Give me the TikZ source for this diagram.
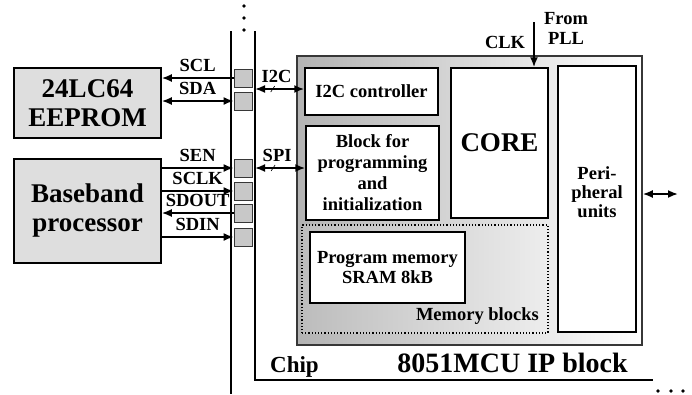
\documentclass[tikz,border=0pt]{standalone}
\usepackage{fontspec}
\setmainfont{Liberation Serif}
\usetikzlibrary{
  arrows.meta,
  positioning,
  calc
}
\definecolor{PadGray}{RGB}{200,200,200}
\definecolor{BoxGray}{RGB}{222,222,222}
\definecolor{FrameGray}{RGB}{55,55,55}
\tikzset{
  extbox/.style={draw=black,fill=BoxGray,line width=1.5pt,align=center,inner sep=2pt,font=\fontsize{27}{29}\selectfont\bfseries},
  padbox/.style={draw=FrameGray,fill=PadGray,line width=0.8pt,minimum size=18pt,inner sep=0pt},
  blockbox/.style={draw=black,fill=white,line width=1.5pt,align=center,inner sep=2pt,font=\fontsize{18.5}{21}\selectfont\bfseries},
  siglabel/.style={font=\fontsize{18.5}{20}\selectfont\bfseries,inner sep=2pt,align=center},
  sigarrow/.style={-{Latex[length=10pt,width=8pt]},line width=1.8pt},
  busarrow/.style={{Latex[length=10pt,width=8pt]}-{Latex[length=10pt,width=8pt]},line width=1.8pt},
  busmark/.style={line width=0.6pt},
  railline/.style={line width=1.2pt}
}

\begin{document}
\begin{tikzpicture}[x=1pt,y=-1pt]
\useasboundingbox (0,0) rectangle (692,394);

% chip edge and pad ring
\coordinate (railtopL) at (231,31);
\coordinate (railbotL) at (231,394);
\coordinate (railtopR) at (255,31);
\coordinate (chipcorner) at (255,380);
\coordinate (chipend) at (653,380);
\draw[railline] (railtopL) -- (railbotL);
\draw[railline] (railtopR) -- (chipcorner) -- (chipend);
\foreach \y in {6,18,30} \fill (244,\y) circle (1.8);
\foreach \x in {658,671,683} \fill (\x,391) circle (1.8);

\foreach \nm/\y in {scl/78,sda/101,sen/168,sclk/191,sdout/213,sdin/237}
  \node[padbox] (pad\nm) at (243,\y) {};

% external devices
\node[extbox, minimum width=147pt, minimum height=70pt] (eeprom) at (87.5,103) {24LC64\\EEPROM};
\node[extbox, minimum width=147pt, minimum height=104pt] (baseband) at (87.5,211) {Baseband\\processor};

\draw[sigarrow] (padscl.west) -- node[siglabel,above=3pt]{SCL} (padscl.west -| eeprom.east);
\draw[busarrow] (padsda.west -| eeprom.east) -- node[siglabel,above=3pt]{SDA} (padsda.west);
\draw[sigarrow] (padsen.west -| baseband.east) -- node[siglabel,above=3pt]{SEN} (padsen.west);
\draw[sigarrow] (padsclk.west -| baseband.east) -- node[siglabel,above=3pt]{SCLK} (padsclk.west);
\draw[sigarrow] (padsdout.west) -- node[siglabel,above=3pt]{SDOUT} (padsdout.west -| baseband.east);
\draw[sigarrow] (padsdin.west -| baseband.east) -- node[siglabel,above=3pt]{SDIN} (padsdin.west);

% IP block
\node[draw=FrameGray, line width=1.5pt, left color=black!30, right color=white, minimum width=345pt, minimum height=289pt] (ipblk) at (469.5,200.5) {};
\node[draw=black, dotted, line width=1.2pt, left color=black!26, right color=black!7, minimum width=246pt, minimum height=108pt] (memblk) at (425,279) {};

\node[blockbox, minimum width=133pt, minimum height=47pt] (i2cctl) at (371.5,91.5) {I2C controller};
\node[blockbox, minimum width=133pt, minimum height=94pt] (progblk) at (372.5,173) {Block for\\programming\\and\\initialization};
\node[blockbox, minimum width=97pt, minimum height=150pt, font=\fontsize{27}{29}\selectfont\bfseries] (core) at (499.5,143) {CORE};
\node[blockbox, minimum width=78pt, minimum height=266pt] (periph) at (597,199) {};
\node[siglabel, font=\fontsize{18.5}{19}\selectfont\bfseries] (periphtxt) at (597,192) {Peri-\\pheral\\units};
\node[blockbox, minimum width=155pt, minimum height=71pt, font=\fontsize{18.5}{20}\selectfont\bfseries] (progmem) at (387.5,267.5) {Program memory\\SRAM 8kB};
\node[siglabel, anchor=base east] (memlbl) at (541,320) {Memory blocks};

\node[font=\fontsize{23}{25}\selectfont\bfseries, anchor=base west, inner sep=0pt] (chiplbl) at (270,372.5) {Chip};
\node[font=\fontsize{28}{30}\selectfont\bfseries, anchor=base, inner sep=0pt] (iplbl) at (512.5,372.5) {8051MCU IP block};

% buses into the block
\coordinate (i2cin) at ([yshift=2.5pt]i2cctl.west);
\coordinate (spiin) at ([yshift=5pt]progblk.west);
\coordinate (i2cport) at (i2cin -| railtopR);
\coordinate (spiport) at (spiin -| railtopR);
\draw[busarrow] (i2cport) -- node[siglabel,above=3pt,xshift=-3pt]{I2C} (i2cin);
\draw[busarrow] (spiport) -- node[siglabel,above=3pt,xshift=-3pt]{SPI} (spiin);
\draw[busmark] ($(i2cport)!0.36!(i2cin)$) ++(-2,3) -- ++(4,-6);
\draw[busmark] ($(spiport)!0.36!(spiin)$) ++(-2,3) -- ++(4,-6);

% clock and peripheral port
\coordinate (pll) at (534,22);
\draw[sigarrow] (pll) -- node[siglabel,left=6pt,pos=0.46]{CLK} (pll |- core.north);
\node[siglabel] (pllsrc) at (566,28) {From\\PLL};
\coordinate (ioend) at (678,194);
\draw[busarrow] (ioend -| ipblk.east) -- (ioend);
\end{tikzpicture}
\end{document}
